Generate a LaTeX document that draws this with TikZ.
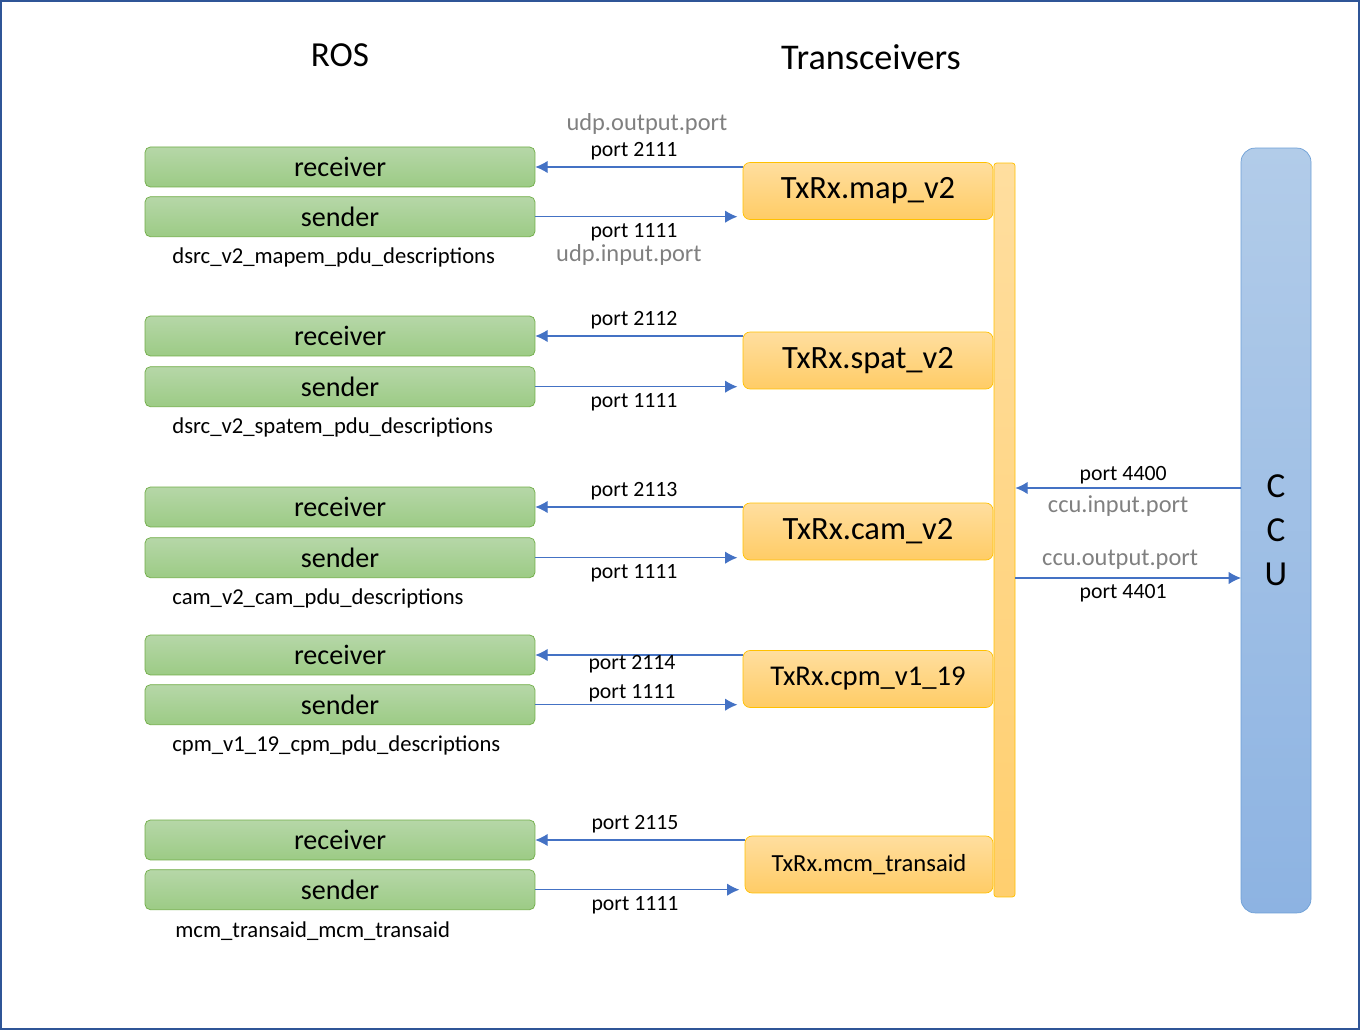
\documentclass[tikz,border=0pt]{standalone}
\usepackage{fontspec}
\setmainfont{Carlito}
\usepackage{xcolor}
\usetikzlibrary{arrows.meta,positioning}

\definecolor{frameblue}{HTML}{2F5597}
\definecolor{linkblue}{HTML}{4472C4}
\definecolor{rostop}{HTML}{B6D7A8}
\definecolor{rosbot}{HTML}{9CCB85}
\definecolor{rosedge}{HTML}{70AD47}
\definecolor{trxtop}{HTML}{FFDE9F}
\definecolor{trxbot}{HTML}{FFCC66}
\definecolor{trxedge}{HTML}{FFC000}
\definecolor{ccutop}{HTML}{B2CCE9}
\definecolor{ccubot}{HTML}{8DB3E2}
\definecolor{ccuedge}{HTML}{6D9FD6}
\definecolor{hintgray}{HTML}{808080}

\begin{document}
\begin{tikzpicture}[
  x=0.02cm, y=-0.02cm,
  rosbox/.style={draw=rosedge, rounded corners=3pt, top color=rostop, bottom color=rosbot,
    minimum width=7.8cm, minimum height=0.8cm, inner sep=0pt, font=\fontsize{16}{19}\selectfont},
  trxbox/.style={draw=trxedge, rounded corners=4pt, top color=trxtop, bottom color=trxbot,
    minimum width=5cm, minimum height=1.14cm, inner sep=0pt},
  msgname/.style={anchor=west, inner sep=0pt, font=\fontsize{12.9}{15}\selectfont},
  port/.style={font=\fontsize{12.4}{15}\selectfont, inner sep=3.5pt, xshift=-0.1cm},
  hint/.style={text=hintgray, font=\fontsize{13.9}{16}\selectfont, inner sep=0pt},
  arr/.style={-{Latex[length=7pt,width=7pt]}, draw=linkblue, line width=0.6pt}
]
\useasboundingbox (0,0) rectangle (1360,1030);
\draw[frameblue, line width=1.2pt] (1,1) rectangle (1359,1029);

% headings
\node[font=\fontsize{20}{24}\selectfont] (ros) at (340,55) {ROS};
\node[font=\fontsize{20.6}{24}\selectfont] (trx) at (871,57) {Transceivers};

% ROS side
\node[rosbox] (rec1) at (340,167) {receiver};
\node[rosbox, below=0.18cm of rec1] (send1) {sender};
\node[msgname] (name1) at (172,257) {dsrc\_v2\_mapem\_pdu\_descriptions};

\node[rosbox] (rec2) at (340,336) {receiver};
\node[rosbox, below=0.2cm of rec2] (send2) {sender};
\node[msgname] (name2) at (172,427) {dsrc\_v2\_spatem\_pdu\_descriptions};

\node[rosbox] (rec3) at (340,507) {receiver};
\node[rosbox, below=0.2cm of rec3] (send3) {sender};
\node[msgname] (name3) at (172,598) {cam\_v2\_cam\_pdu\_descriptions};

\node[rosbox] (rec4) at (340,655) {receiver};
\node[rosbox, below=0.18cm of rec4] (send4) {sender};
\node[msgname] (name4) at (172,745) {cpm\_v1\_19\_cpm\_pdu\_descriptions};

\node[rosbox] (rec5) at (340,840) {receiver};
\node[rosbox, below=0.18cm of rec5] (send5) {sender};
\node[msgname] (name5) at (175,931) {mcm\_transaid\_mcm\_transaid};

% transceivers
\node[trxbox, font=\fontsize{18.5}{22}\selectfont] (map) at (868,191) {TxRx.map\_v2};
\node[trxbox, font=\fontsize{18.5}{22}\selectfont] (spat) at (868,360.5) {TxRx.spat\_v2};
\node[trxbox, font=\fontsize{18.5}{22}\selectfont] (cam) at (868,531.5) {TxRx.cam\_v2};
\node[trxbox, font=\fontsize{16.3}{20}\selectfont] (cpm) at (868,679) {TxRx.cpm\_v1\_19};
\node[trxbox, minimum width=4.96cm, font=\fontsize{14}{17}\selectfont] (mcm) at (869,864.5) {TxRx.mcm\_transaid};

\node[draw=trxedge, rounded corners=1.5pt, top color=trxtop, bottom color=trxbot!85!trxtop,
  minimum width=0.42cm, minimum height=14.68cm, inner sep=0pt] (bus) at (1004.5,530) {};

% CCU
\node[draw=ccuedge, rounded corners=8pt, top color=ccutop, bottom color=ccubot,
  minimum width=1.4cm, minimum height=15.3cm, inner sep=0pt, align=center,
  font=\fontsize{20}{25}\selectfont] (ccu) at (1276,530.5) {C\\C\\U};

% ROS <-> transceivers
\draw[arr] (map.west |- rec1.east) -- node[port, above] (p1r) {port 2111} (rec1.east);
\node[hint, above=0.02cm of p1r, xshift=0.26cm] (udpout) {udp.output.port};
\draw[arr, shorten >=3pt] (send1.east) -- node[port, below] (p1s) {port 1111} (map.west |- send1.east);
\node[hint, below=-0.06cm of p1s, xshift=-0.1cm] (udpin) {udp.input.port};

\draw[arr] (spat.west |- rec2.east) -- node[port, above] (p2r) {port 2112} (rec2.east);
\draw[arr, shorten >=3pt] (send2.east) -- node[port, below] (p2s) {port 1111} (spat.west |- send2.east);

\draw[arr] (cam.west |- rec3.east) -- node[port, above] (p3r) {port 2113} (rec3.east);
\draw[arr, shorten >=3pt] (send3.east) -- node[port, below] (p3s) {port 1111} (cam.west |- send3.east);

\draw[arr] (cpm.west |- rec4.east) -- node[port, below, inner sep=0pt, xshift=-0.04cm] (p4r) {port 2114} (rec4.east);
\draw[arr, shorten >=3pt] (send4.east) -- node[port, above, inner sep=1pt, xshift=-0.04cm] (p4s) {port 1111} (cpm.west |- send4.east);

\draw[arr] (mcm.west |- rec5.east) -- node[port, above] (p5r) {port 2115} (rec5.east);
\draw[arr, shorten >=3pt] (send5.east) -- node[port, below] (p5s) {port 1111} (mcm.west |- send5.east);

% transceivers <-> CCU
\coordinate (ccuin) at (1241,488);
\coordinate (ccuout) at (1241,578);
\draw[arr] (ccuin) -- node[port, above, inner sep=2pt] (p6) {port 4400} (bus.east |- ccuin);
\node[hint, below=0.14cm of p6.south, anchor=north, xshift=-0.1cm] (ccuinlbl) {ccu.input.port};
\draw[arr] (bus.east |- ccuout) -- node[port, below] (p7) {port 4401} (ccuout);
\node[hint, above=0.16cm of p7.north, anchor=south, xshift=-0.06cm] (ccuoutlbl) {ccu.output.port};
\end{tikzpicture}
\end{document}
